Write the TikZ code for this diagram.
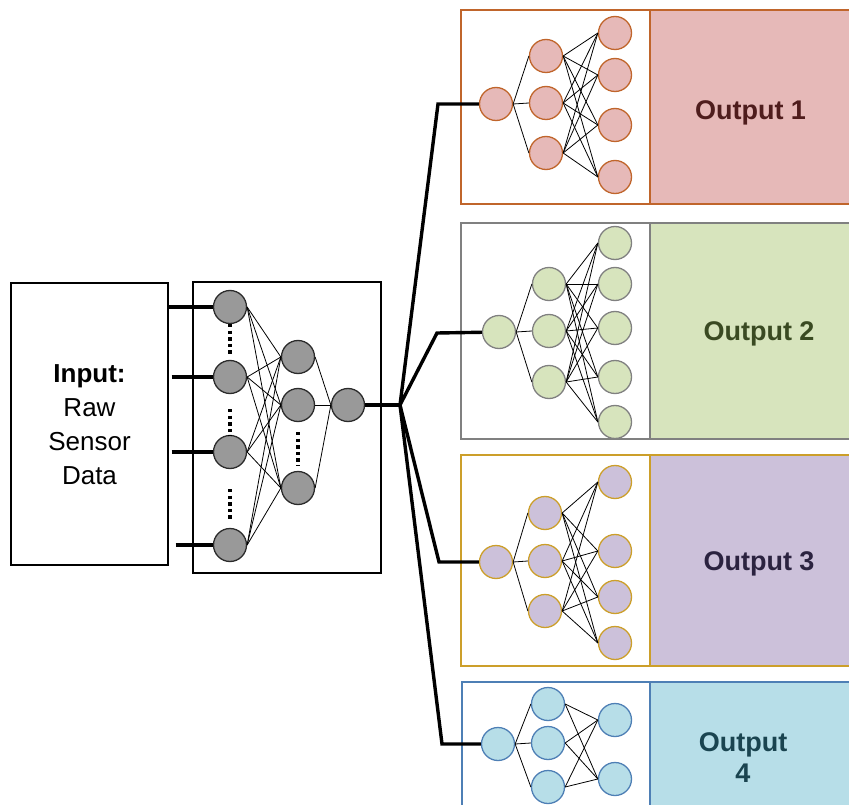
\documentclass[tikz,border=0pt]{standalone}
\usepackage{fontspec}
\setmainfont{Liberation Sans}
\definecolor{gfill}{HTML}{999999}
\definecolor{gline}{HTML}{2B2B2B}
\definecolor{rfill}{HTML}{E6B9B8}
\definecolor{rline}{HTML}{C0652B}
\definecolor{rtext}{HTML}{4F1D1D}
\definecolor{vfill}{HTML}{D7E4BD}
\definecolor{vline}{HTML}{808080}
\definecolor{vtext}{HTML}{3A4A22}
\definecolor{pfill}{HTML}{CCC1DA}
\definecolor{pline}{HTML}{CC9F2A}
\definecolor{ptext}{HTML}{2B2340}
\definecolor{bfill}{HTML}{B7DEE8}
\definecolor{bline}{HTML}{4E7FB5}
\definecolor{btext}{HTML}{1A4450}
\begin{document}
\begin{tikzpicture}[x=1pt,y=-1pt,
  neuron/.style n args={2}{circle, fill=#1, draw=#2, line width=1.3pt, minimum size=33pt, inner sep=0pt},
  frame/.style={draw=#1, line width=1.3pt, inner sep=0pt},
  link/.style={line width=0.8pt, black},
  bus/.style={line width=3.4pt, black, line join=miter},
  dots/.style={line width=3.4pt, dash pattern=on 3.4pt off 3.2pt, black},
  outlabel/.style={font=\fontsize{27}{31}\selectfont\bfseries, text=#1, align=center, inner sep=0pt},
  inlabel/.style={font=\fontsize{26}{34}\selectfont, align=center, inner sep=0pt}]
\useasboundingbox (0,0) rectangle (849,805);
\clip (0,0) rectangle (849,805);

% ---------- input and shared network ----------
\node[frame=black, minimum width=157pt, minimum height=282pt] (inbox) at (89.5,424) {};
\node[inlabel] (intext) at (89.5,424.5) {\textbf{Input:}\\Raw\\Sensor\\Data};
\node[frame=black, minimum width=188pt, minimum height=291pt] (netbox) at (287,427.5) {};

\node[neuron={gfill}{gline}] (g1a) at (230,307) {};
\node[neuron={gfill}{gline}] (g1b) at (230,377) {};
\node[neuron={gfill}{gline}] (g1c) at (230,452) {};
\node[neuron={gfill}{gline}] (g1d) at (230,545) {};
\node[neuron={gfill}{gline}] (g2a) at (298,357) {};
\node[neuron={gfill}{gline}] (g2b) at (298,405) {};
\node[neuron={gfill}{gline}] (g2c) at (298,488) {};
\node[neuron={gfill}{gline}] (g3) at (348,405) {};

\draw[dots] (230,324) -- (230,355);
\draw[dots] (230,409) -- (230,436);
\draw[dots] (230,489) -- (230,521);
\draw[dots] (298,432) -- (298,466);

\foreach \i in {a,b,c,d}
  \foreach \j in {a,b,c}
    \draw[link] (g1\i.east) -- (g2\j.west);
\foreach \j in {a,b,c}
  \draw[link] (g2\j.east) -- (g3.west);

\draw[bus] (inbox.east |- g1a) -- (g1a);
\draw[bus] ([xshift=3pt]inbox.east |- g1b) -- (g1b);
\draw[bus] ([xshift=3pt]inbox.east |- g1c) -- (g1c);
\draw[bus] ([xshift=7pt]inbox.east |- g1d) -- (g1d);

% ---------- branch coordinates ----------
\coordinate (branch) at (400,405);
\coordinate (bend1) at (438,104);
\coordinate (bend2) at (437,333);
\coordinate (bend3) at (439,562);
\coordinate (bend4) at (442,744);

% ---------- output 1 ----------
\node[frame=rline, fill=white, minimum width=189pt, minimum height=194pt] (w1) at (555.5,107) {};
\node[frame=rline, fill=rfill, minimum width=220pt, minimum height=194pt] (c1) at (760,107) {};
\node[outlabel=rtext, anchor=base] (t1) at (750.5,120) {Output 1};
\node[neuron={rfill}{rline}] (o1a) at (496,104) {};
\node[neuron={rfill}{rline}] (o1b1) at (546,56) {};
\node[neuron={rfill}{rline}] (o1b2) at (546,103) {};
\node[neuron={rfill}{rline}] (o1b3) at (546,153) {};
\node[neuron={rfill}{rline}] (o1c1) at (615,33) {};
\node[neuron={rfill}{rline}] (o1c2) at (615,75) {};
\node[neuron={rfill}{rline}] (o1c3) at (615,125) {};
\node[neuron={rfill}{rline}] (o1c4) at (615,177) {};
\foreach \i in {1,2,3} {
  \draw[link] (o1a.east) -- (o1b\i.west);
  \foreach \j in {1,...,4} \draw[link] (o1b\i.east) -- (o1c\j.west);
}

% ---------- output 2 ----------
\node[frame=vline, fill=white, minimum width=189pt, minimum height=216pt] (w2) at (555.5,331) {};
\node[frame=vline, fill=vfill, minimum width=220pt, minimum height=216pt] (c2) at (760,331) {};
\node[outlabel=vtext, anchor=base] (t2) at (759,340) {Output 2};
\node[neuron={vfill}{vline}] (o2a) at (499,332) {};
\node[neuron={vfill}{vline}] (o2b1) at (549,284) {};
\node[neuron={vfill}{vline}] (o2b2) at (549,331) {};
\node[neuron={vfill}{vline}] (o2b3) at (549,382) {};
\node[neuron={vfill}{vline}] (o2c1) at (615,243) {};
\node[neuron={vfill}{vline}] (o2c2) at (615,284) {};
\node[neuron={vfill}{vline}] (o2c3) at (615,328) {};
\node[neuron={vfill}{vline}] (o2c4) at (615,377) {};
\node[neuron={vfill}{vline}] (o2c5) at (615,422) {};
\foreach \i in {1,2,3} {
  \draw[link] (o2a.east) -- (o2b\i.west);
  \foreach \j in {1,...,5} \draw[link] (o2b\i.east) -- (o2c\j.west);
}

% ---------- output 3 ----------
\node[frame=pline, fill=white, minimum width=189pt, minimum height=211pt] (w3) at (555.5,560.5) {};
\node[frame=pline, fill=pfill, minimum width=220pt, minimum height=211pt] (c3) at (760,560.5) {};
\node[outlabel=ptext, anchor=base] (t3) at (759,570) {Output 3};
\node[neuron={pfill}{pline}] (o3a) at (496,562) {};
\node[neuron={pfill}{pline}] (o3b1) at (545,513) {};
\node[neuron={pfill}{pline}] (o3b2) at (545,561) {};
\node[neuron={pfill}{pline}] (o3b3) at (545,611) {};
\node[neuron={pfill}{pline}] (o3c1) at (615,482) {};
\node[neuron={pfill}{pline}] (o3c2) at (615,551) {};
\node[neuron={pfill}{pline}] (o3c3) at (615,597) {};
\node[neuron={pfill}{pline}] (o3c4) at (615,643) {};
\foreach \i in {1,2,3} {
  \draw[link] (o3a.east) -- (o3b\i.west);
  \foreach \j in {1,...,4} \draw[link] (o3b\i.east) -- (o3c\j.west);
}

% ---------- output 4 ----------
\node[frame=bline, fill=white, minimum width=188pt, minimum height=148pt] (w4) at (556,756) {};
\node[frame=bline, fill=bfill, minimum width=220pt, minimum height=148pt] (c4) at (760,756) {};
\node[outlabel=btext] (t4) at (743,758) {Output\\4};
\node[neuron={bfill}{bline}] (o4a) at (498,744) {};
\node[neuron={bfill}{bline}] (o4b1) at (548,704) {};
\node[neuron={bfill}{bline}] (o4b2) at (548,743) {};
\node[neuron={bfill}{bline}] (o4b3) at (548,787) {};
\node[neuron={bfill}{bline}] (o4c1) at (615,720) {};
\node[neuron={bfill}{bline}] (o4c2) at (615,779) {};
\foreach \i in {1,2,3} {
  \draw[link] (o4a.east) -- (o4b\i.west);
  \foreach \j in {1,2} \draw[link] (o4b\i.east) -- (o4c\j.west);
}

% ---------- trunk and branches ----------
\draw[bus] (g3) -- (branch);
\draw[bus] (branch) -- (bend1) -- (o1a);
\draw[bus] (branch) -- (bend2) -- (o2a);
\draw[bus] (branch) -- (bend3) -- (o3a);
\draw[bus] (branch) -- (bend4) -- (o4a);
\end{tikzpicture}
\end{document}
